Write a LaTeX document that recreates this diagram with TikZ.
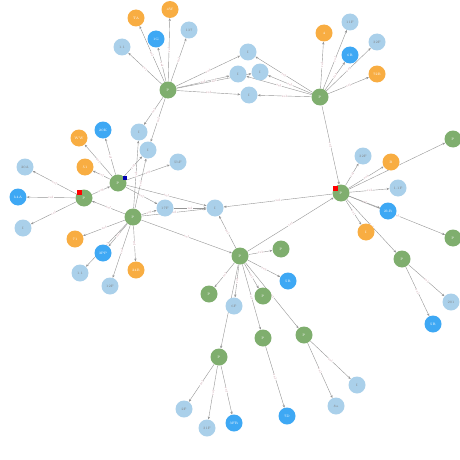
\documentclass[tikz,border=0pt]{standalone}
\usetikzlibrary{arrows.meta}
\pgfdeclarelayer{background}
\pgfsetlayers{background,main}
\definecolor{cgreen}{HTML}{7FAE6E}
\definecolor{clblue}{HTML}{AAD0EA}
\definecolor{cblue}{HTML}{3EA8F4}
\definecolor{corange}{HTML}{F8AD42}
\definecolor{cedge}{HTML}{959595}
\definecolor{clab}{HTML}{C0909C}
\tikzset{
  nd/.style={circle,minimum size=17pt,inner sep=0pt,font=\fontsize{3.4}{3.8}\selectfont},
  gn/.style={nd,fill=cgreen,text=white},
  lb/.style={nd,fill=clblue,text=gray},
  bn/.style={nd,fill=cblue,text=white},
  on/.style={nd,fill=corange,text=white},
  edge/.style={draw=cedge,line width=0.4pt,-{Stealth[length=2.8pt,width=2.3pt]}},
  elab/.style={sloped,fill=white,inner sep=0.3pt,text=clab,font=\fontsize{3.2}{3.6}\selectfont},
}
\begin{document}
\begin{tikzpicture}[x=1pt,y=-1pt]
\useasboundingbox (0,0) rectangle (460,460);
% green
\node[gn] (g1) at (168,90) {P};
\node[gn] (g2) at (320,97) {P};
\node[gn] (g3) at (118,183) {P};
\node[gn] (g4) at (84,198) {P};
\node[gn] (g5) at (133,217) {P};
\node[gn] (g6) at (341,193) {P};
\node[gn] (g7) at (240,256) {P};
\node[gn] (g8) at (281,249) {P};
\node[gn] (g9) at (209,294) {P};
\node[gn] (g10) at (263,296) {P};
\node[gn] (g11) at (263,338) {P};
\node[gn] (g12) at (304,335) {P};
\node[gn] (g13) at (219,357) {P};
\node[gn] (g14) at (402,259) {P};
\node[gn] (g15) at (453,139) {P};
\node[gn] (g16) at (453,238) {P};
% light blue
\node[lb] (l1) at (122,47) {1.1};
\node[lb] (l2) at (189,30) {137};
\node[lb] (l3) at (248,52) {I};
\node[lb] (l4) at (238,74) {I};
\node[lb] (l5) at (260,72) {I};
\node[lb] (l6) at (249,95) {I};
\node[lb] (l7) at (350,22) {11F};
\node[lb] (l8) at (377,42) {32F};
\node[lb] (l9) at (139,132) {I};
\node[lb] (l10) at (148,150) {I};
\node[lb] (l11) at (178,162) {5bF};
\node[lb] (l12) at (25,167) {20A};
\node[lb] (l13) at (23,228) {I};
\node[lb] (l14) at (165,208) {17F};
\node[lb] (l15) at (215,208) {I};
\node[lb] (l16) at (80,273) {1.1};
\node[lb] (l17) at (110,286) {12F};
\node[lb] (l18) at (234,306) {6F};
\node[lb] (l19) at (363,156) {32F};
\node[lb] (l20) at (398,188) {1.1F};
\node[lb] (l21) at (451,302) {201};
\node[lb] (l22) at (357,385) {I};
\node[lb] (l23) at (336,406) {8a};
\node[lb] (l24) at (184,409) {2F};
\node[lb] (l25) at (207,428) {31F};
% blue
\node[bn] (b1) at (156,39) {1G};
\node[bn] (b2) at (103,130) {20K};
\node[bn] (b3) at (18,197) {b4A};
\node[bn] (b4) at (103,253) {3PP};
\node[bn] (b5) at (288,281) {5R};
\node[bn] (b6) at (350,55) {6R};
\node[bn] (b7) at (388,211) {2bR};
\node[bn] (b8) at (433,324) {5R};
\node[bn] (b9) at (287,416) {7D};
\node[bn] (b10) at (234,423) {3FR};
% orange
\node[on] (o1) at (136,18) {TA};
\node[on] (o2) at (170,9.5) {4W};
\node[on] (o3) at (79,138) {WW};
\node[on] (o4) at (85,167) {51};
\node[on] (o5) at (75,239) {71};
\node[on] (o6) at (136,270) {24B};
\node[on] (o7) at (324,33) {4};
\node[on] (o8) at (377,74) {72B};
\node[on] (o9) at (391,162) {B};
\node[on] (o10) at (366,232) {I};
% markers
\fill[red] (77,190) rectangle (81.5,194.5);
\fill[red] (333,186) rectangle (337.5,190.5);
\fill[blue!70!black] (123,176) rectangle (127,180);
% edges
\begin{pgfonlayer}{background}
\foreach \a/\b in {g1/o1,g1/o2,g1/l2,g1/b1,g1/l1,g1/l3,g1/l4,g1/l5,g1/l6,g1/l9,g1/l10,
  g2/o7,g2/l7,g2/b6,g2/l8,g2/o8,g2/l3,g2/l4,g2/l5,g2/l6,g2/g6,
  g6/l19,g6/o9,g6/g15,g6/l20,g6/b7,g6/g16,g6/o10,g6/g14,g6/l15,
  g14/l21,g14/b8,
  g7/l15,g7/g8,g7/b5,g7/g9,g7/l18,g7/g13,g7/g10,g7/g11,g7/g12,g7/g6,
  g12/l22,g12/l23,g13/l24,g13/l25,g13/b10,g11/b9,
  g4/l12,g4/b3,g4/l13,g4/g3,g5/g4,
  g3/o3,g3/o4,g3/b2,g3/l10,g3/l11,g3/l14,g3/l15,
  g5/l9,g5/l10,g5/o5,g5/b4,g5/l16,g5/l17,g5/o6,g5/l14,g5/l15,g5/g7,l14/l15}
  \draw[edge] (\a) -- node[elab]{rel} (\b);
\end{pgfonlayer}
\end{tikzpicture}
\end{document}
